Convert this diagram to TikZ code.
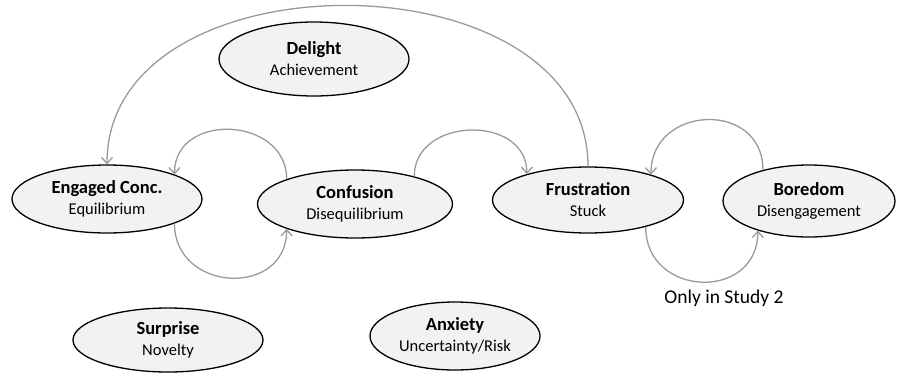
\documentclass[tikz,border=0pt]{standalone}
\usepackage{fontspec}
\setmainfont{Carlito}
\usetikzlibrary{shapes.geometric,arrows.meta}
\definecolor{nodefill}{HTML}{F2F2F2}
\definecolor{arrowgrey}{HTML}{9A9A9A}
\newcommand\statetext[2]{{\fontsize{18.5}{20}\selectfont\bfseries #1}\\[1pt]{\fontsize{16.5}{20}\selectfont #2}}
\tikzset{
  state/.style={ellipse, draw=black, line width=1.3pt, fill=nodefill, inner sep=0pt, align=center,
    font=\fontsize{16.5}{20}\selectfont},
  trans/.style={draw=arrowgrey, line width=1.3pt, -{Straight Barb[length=6pt,width=11pt]}},
}
\begin{document}
\begin{tikzpicture}[x=1pt,y=-1pt]
\useasboundingbox (0,0) rectangle (905,381);
\node[state, minimum width=190pt, minimum height=74pt] (D) at (314,59) {\statetext{Delight}{Achievement}};
\node[state, minimum width=190pt, minimum height=68pt] (E) at (107,199) {\statetext{Engaged Conc.}{Equilibrium}};
\node[state, minimum width=195pt, minimum height=68pt] (C) at (355,204) {\statetext{Confusion}{Disequilibrium}};
\node[state, minimum width=191pt, minimum height=66pt] (F) at (588,200) {\statetext{Frustration}{Stuck}};
\node[state, minimum width=172pt, minimum height=72pt] (B) at (809,201) {\statetext{Boredom}{Disengagement}};
\node[state, minimum width=190pt, minimum height=64pt] (S) at (168,340) {\statetext{Surprise}{Novelty}};
\node[state, minimum width=170pt, minimum height=68pt] (A) at (455,336) {\statetext{Anxiety}{Uncertainty/Risk}};
\node[font=\fontsize{19.5}{22}\selectfont] (L) at (724,298) {Only in Study 2};
% connectors
\draw[trans] (F.90) .. controls +(0,-213) and +(0,-213) .. (E.90);
\draw[trans] (C.160) .. controls +(0,-63) and +(0,-63) .. (E.20);
\draw[trans] (E.-20) .. controls +(0,69) and +(0,69) .. (C.200);
\draw[trans] (C.25) .. controls +(0,-60) and +(0,-60) .. (F.157);
\draw[trans] (B.146) .. controls +(0,-70) and +(0,-70) .. (F.22);
\draw[trans] (F.-25) .. controls +(0,71) and +(0,71) .. (B.210);
\end{tikzpicture}
\end{document}
